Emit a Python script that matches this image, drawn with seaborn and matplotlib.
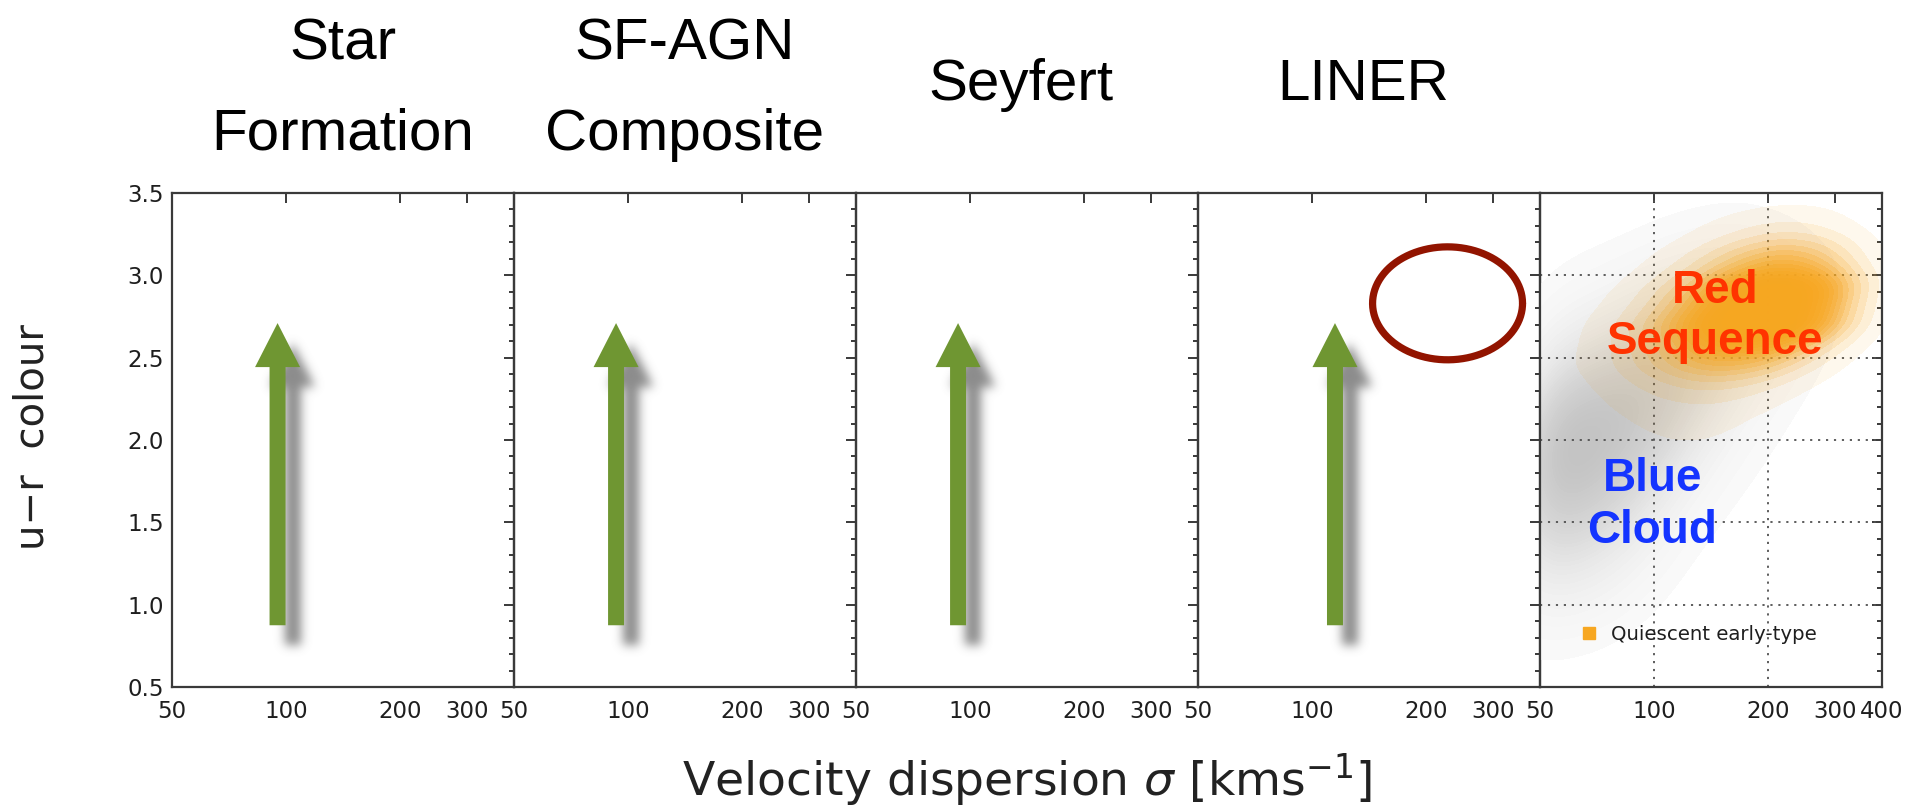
import numpy as np
import pandas as pd
import matplotlib
matplotlib.use("Agg")
import matplotlib.pyplot as plt
import seaborn as sns
from matplotlib.patches import FancyArrowPatch, ArrowStyle
from matplotlib.path import Path
from matplotlib.lines import Line2D
from matplotlib.colors import LinearSegmentedColormap, ListedColormap
from matplotlib.ticker import FixedLocator, FixedFormatter, NullLocator, MultipleLocator

# ---------------------------------------------------------------- data
panel_titles = [["Star", "Formation"], ["SF-AGN", "Composite"], ["Seyfert"], ["LINER"], []]

sigma_range = [50, 400]
ur_range = [0.5, 3.5]
x_ticks = [50, 100, 200, 300]
x_ticks_last = [50, 100, 200, 300, 400]

# green arrows per emission-line class: sigma, start and tip in u-r
arrow_sigma = [95, 93, 93, 115]
arrow_ur_start = 0.875
arrow_ur_tip = 2.71

# highlighted region in the LINER panel (centre and half-axes in log10 sigma / u-r)
ring_sigma = 228
ring_ur = 2.83
ring_dlog = 0.198
ring_dur = 0.343

# galaxy-population density on a grid: rows follow ur_nodes, columns sigma_nodes
sigma_nodes = [50, 58, 68, 80, 94, 110, 130, 152, 180, 212, 250, 295, 350]
ur_nodes = [0.7, 0.9, 1.1, 1.3, 1.5, 1.7, 1.9, 2.1, 2.3, 2.5, 2.7, 2.9, 3.1, 3.3, 3.5]

all_galaxies = [
    [0.10, 0.10, 0.10, 0.05, 0.00, 0.00, 0.00, 0.00, 0.00, 0.00, 0.00, 0.00, 0.00],
    [0.40, 0.50, 0.40, 0.30, 0.15, 0.05, 0.00, 0.00, 0.00, 0.00, 0.00, 0.00, 0.00],
    [1.20, 1.40, 1.20, 0.80, 0.40, 0.15, 0.05, 0.00, 0.00, 0.00, 0.00, 0.00, 0.00],
    [2.50, 2.80, 2.40, 1.70, 0.90, 0.35, 0.10, 0.05, 0.00, 0.00, 0.00, 0.00, 0.00],
    [4.00, 4.50, 4.00, 3.00, 1.80, 0.80, 0.30, 0.10, 0.05, 0.00, 0.00, 0.00, 0.00],
    [5.50, 6.00, 5.50, 4.50, 3.00, 1.60, 0.70, 0.30, 0.10, 0.05, 0.00, 0.00, 0.00],
    [6.00, 6.50, 6.30, 5.50, 4.30, 2.80, 1.40, 0.60, 0.25, 0.10, 0.05, 0.00, 0.00],
    [5.00, 6.00, 6.30, 6.00, 5.30, 4.00, 2.50, 1.20, 0.50, 0.20, 0.05, 0.00, 0.00],
    [3.20, 4.30, 5.00, 5.50, 5.30, 4.70, 3.50, 2.20, 1.00, 0.45, 0.15, 0.05, 0.00],
    [1.50, 2.30, 3.00, 3.80, 4.30, 4.50, 4.00, 3.00, 1.80, 0.90, 0.35, 0.10, 0.00],
    [0.60, 1.00, 1.40, 2.00, 2.70, 3.20, 3.40, 3.00, 2.20, 1.30, 0.60, 0.20, 0.05],
    [0.20, 0.35, 0.50, 0.80, 1.20, 1.60, 1.90, 1.90, 1.60, 1.00, 0.50, 0.20, 0.05],
    [0.05, 0.10, 0.15, 0.25, 0.40, 0.60, 0.75, 0.80, 0.70, 0.45, 0.25, 0.10, 0.00],
    [0.00, 0.00, 0.05, 0.05, 0.10, 0.15, 0.20, 0.25, 0.20, 0.12, 0.06, 0.00, 0.00],
    [0.00, 0.00, 0.00, 0.00, 0.00, 0.03, 0.05, 0.05, 0.05, 0.03, 0.00, 0.00, 0.00],
]

quiescent_early = [
    [0.00, 0.00, 0.00, 0.00, 0.00, 0.00, 0.00, 0.00, 0.00, 0.00, 0.00, 0.00, 0.00],
    [0.00, 0.00, 0.00, 0.00, 0.00, 0.00, 0.00, 0.00, 0.00, 0.00, 0.00, 0.00, 0.00],
    [0.00, 0.00, 0.00, 0.00, 0.00, 0.00, 0.00, 0.00, 0.00, 0.00, 0.00, 0.00, 0.00],
    [0.00, 0.00, 0.00, 0.00, 0.00, 0.00, 0.00, 0.00, 0.00, 0.00, 0.00, 0.00, 0.00],
    [0.00, 0.00, 0.00, 0.00, 0.00, 0.00, 0.00, 0.00, 0.00, 0.00, 0.00, 0.00, 0.00],
    [0.00, 0.00, 0.00, 0.03, 0.05, 0.05, 0.05, 0.03, 0.00, 0.00, 0.00, 0.00, 0.00],
    [0.00, 0.00, 0.00, 0.05, 0.08, 0.10, 0.10, 0.08, 0.05, 0.00, 0.00, 0.00, 0.00],
    [0.00, 0.00, 0.05, 0.10, 0.15, 0.20, 0.25, 0.20, 0.10, 0.05, 0.00, 0.00, 0.00],
    [0.00, 0.05, 0.10, 0.20, 0.35, 0.50, 0.60, 0.60, 0.45, 0.25, 0.10, 0.03, 0.00],
    [0.00, 0.10, 0.20, 0.45, 0.90, 1.60, 2.40, 2.80, 2.60, 1.80, 0.90, 0.30, 0.05],
    [0.00, 0.05, 0.15, 0.40, 1.00, 2.20, 4.00, 6.00, 7.50, 7.00, 5.00, 2.20, 0.50],
    [0.00, 0.00, 0.05, 0.15, 0.40, 1.00, 2.20, 4.00, 6.00, 7.00, 6.00, 3.20, 0.80],
    [0.00, 0.00, 0.00, 0.00, 0.10, 0.25, 0.60, 1.20, 2.00, 2.50, 2.20, 1.20, 0.30],
    [0.00, 0.00, 0.00, 0.00, 0.00, 0.00, 0.10, 0.20, 0.35, 0.45, 0.40, 0.20, 0.05],
    [0.00, 0.00, 0.00, 0.00, 0.00, 0.00, 0.00, 0.00, 0.00, 0.00, 0.00, 0.00, 0.00],
]

legend_label = "Quiescent early-type"

# ---------------------------------------------------------------- style
sns.set_theme(style="white")
plt.rcParams["font.family"] = ["DejaVu Sans"]
plt.rcParams["mathtext.fontset"] = "dejavusans"

GREEN = "#6F9632"
RING = "#921400"
ORANGE = "#F7A721"
INK = "#1E1E1E"

W, H, DPI = 1925, 807, 100
fig = plt.figure(figsize=(W / DPI, H / DPI), dpi=DPI)
fig.patch.set_facecolor("white")

left0, top0, bot0, pw = 172, 193, 687, 342

axes = []
for i in range(5):
    ax = fig.add_axes([(left0 + i * pw) / W, (H - bot0) / H, pw / W, (bot0 - top0) / H])
    ax.set_xscale("log")
    ax.patch.set_alpha(0.0)
    axes.append(ax)

# ---------------------------------------------------------------- population clouds
ax5 = axes[4]
S, U = np.meshgrid(sigma_nodes, ur_nodes)
cloud = pd.DataFrame({
    "sigma": S.ravel().astype(float),
    "ur": U.ravel().astype(float),
    "all": np.asarray(all_galaxies).ravel(),
    "qe": np.asarray(quiescent_early).ravel(),
})

grey_cmap = LinearSegmentedColormap.from_list(
    "greycloud", ["#FAFAFA", "#E8E8E8", "#D4D4D4", "#C3C3C3"])

sns.kdeplot(data=cloud, x="sigma", y="ur", weights="all", fill=True,
            log_scale=(True, False), levels=40, thresh=0.02, cmap=grey_cmap,
            bw_adjust=0.8, ax=ax5, zorder=1, antialiased=False)

# dotted reference grid, above the grey population, below the quiescent one
for gx in [100, 200]:
    ax5.axvline(gx, color="#505050", lw=1.3, ls=(0, (1.2, 3.2)), zorder=1.5)
for gy in [1.0, 1.5, 2.0, 2.5, 3.0]:
    ax5.axhline(gy, color="#505050", lw=1.3, ls=(0, (1.2, 3.2)), zorder=1.5)

# quiescent early types: nested translucent shells, densest on top
orange_only = ListedColormap([ORANGE])
shell_props = np.linspace(0.03, 0.85, 16)
shell_alpha = np.linspace(0.08, 0.55, 16)
for k, (p, a) in enumerate(zip(shell_props, shell_alpha)):
    sns.kdeplot(data=cloud, x="sigma", y="ur", weights="qe", fill=True,
                log_scale=(True, False), levels=[p, 1.0], cmap=orange_only,
                alpha=a, bw_adjust=0.75, ax=ax5, zorder=2 + k * 0.01)

label_font = ["Liberation Sans", "DejaVu Sans"]
span = bot0 - top0
for txt, fx, py, col in [("Red", 0.512, 303, "#FF3300"),
                         ("Sequence", 0.512, 354, "#FF3300"),
                         ("Blue", 0.330, 491, "#1434FF"),
                         ("Cloud", 0.328, 543, "#1434FF")]:
    ax5.text(fx, (bot0 - py) / span, txt, transform=ax5.transAxes,
             ha="center", va="baseline", color=col, fontsize=33,
             fontweight="bold", family=label_font, zorder=5)

handle = Line2D([], [], marker="s", ls="", color=ORANGE, markersize=8.5)
leg = ax5.legend([handle], [legend_label], loc="center left",
                 bbox_to_anchor=(0.118, (bot0 - 634) / span),
                 frameon=False, fontsize=14.2, handlelength=0.9, handletextpad=0.65,
                 borderpad=0, borderaxespad=0)
for t in leg.get_texts():
    t.set_color(INK)

# ---------------------------------------------------------------- axes cosmetics
for i, ax in enumerate(axes):
    ax.set_xlim(*sigma_range)
    ax.set_ylim(*ur_range)
    ticks = x_ticks_last if i == 4 else x_ticks
    ax.xaxis.set_major_locator(FixedLocator(ticks))
    ax.xaxis.set_major_formatter(FixedFormatter([str(v) for v in ticks]))
    ax.xaxis.set_minor_locator(NullLocator())
    ax.yaxis.set_major_locator(MultipleLocator(0.5))
    ax.yaxis.set_minor_locator(MultipleLocator(0.1))
    ax.yaxis.set_major_formatter(plt.FuncFormatter(lambda v, p: f"{v:.1f}"))
    ax.tick_params(which="both", direction="in", top=True, right=True,
                   color="#2A2A2A", width=1.3, labelcolor=INK, labelsize=16.5)
    ax.tick_params(which="major", length=7)
    ax.tick_params(which="minor", length=3.5)
    ax.tick_params(axis="x", pad=9)
    ax.tick_params(axis="y", pad=6, labelleft=(i == 0))
    ax.set_xlabel("")
    ax.set_ylabel("")
    ax.grid(False)
    for sp in ax.spines.values():
        sp.set_color("#3A3A3A")
        sp.set_linewidth(1.6)
        sp.set_visible(True)

# ---------------------------------------------------------------- arrows with soft drop shadow
HEAD_LEN_PX, HEAD_W_PX, TAIL_W_PX = 44.0, 45.0, 16.0
MUT = 20.0
pt_px = DPI / 72.0
arrow_style = ArrowStyle.Simple(head_length=HEAD_LEN_PX / (MUT * pt_px),
                                head_width=HEAD_W_PX / (MUT * pt_px),
                                tail_width=TAIL_W_PX / (MUT * pt_px))


def gauss_blur(img, sigma):
    r = int(3 * sigma)
    k = np.exp(-0.5 * (np.arange(-r, r + 1) / sigma) ** 2)
    k /= k.sum()
    img = np.apply_along_axis(lambda v: np.convolve(v, k, mode="same"), 0, img)
    img = np.apply_along_axis(lambda v: np.convolve(v, k, mode="same"), 1, img)
    return img


SHADOW_DX, SHADOW_DY, SHADOW_BLUR = 15, -20, 5.0
for ax, xs in zip(axes[:4], arrow_sigma):
    (xb, yb), (_, yt) = ax.transData.transform([(xs, arrow_ur_start), (xs, arrow_ur_tip)])
    yh = yt - HEAD_LEN_PX
    poly = np.array([
        (xb - TAIL_W_PX / 2, yb), (xb + TAIL_W_PX / 2, yb), (xb + TAIL_W_PX / 2, yh),
        (xb + HEAD_W_PX / 2, yh), (xb, yt), (xb - HEAD_W_PX / 2, yh),
        (xb - TAIL_W_PX / 2, yh)]) + np.array([SHADOW_DX, SHADOW_DY])
    pad = 25
    x0 = int(np.floor(poly[:, 0].min())) - pad
    y0 = int(np.floor(poly[:, 1].min())) - pad
    x1 = int(np.ceil(poly[:, 0].max())) + pad
    y1 = int(np.ceil(poly[:, 1].max())) + pad
    gx, gy = np.meshgrid(np.arange(x0, x1) + 0.5, np.arange(y0, y1) + 0.5)
    mask = Path(poly).contains_points(np.c_[gx.ravel(), gy.ravel()]).reshape(gx.shape)
    soft = gauss_blur(mask.astype(float), SHADOW_BLUR)
    rgba = np.zeros(soft.shape + (4,))
    rgba[..., :3] = 0.42
    rgba[..., 3] = 0.78 * soft
    fig.figimage(rgba, xo=x0, yo=y0, origin="lower", zorder=-1)
    ax.add_patch(FancyArrowPatch((xs, arrow_ur_start), (xs, arrow_ur_tip),
                                 arrowstyle=arrow_style, mutation_scale=MUT,
                                 shrinkA=0, shrinkB=0, fc=GREEN, ec="none",
                                 lw=0, zorder=3))

# ring in the LINER panel, drawn as an ellipse in log-sigma space
t = np.linspace(0, 2 * np.pi, 300)
axes[3].plot(10 ** (np.log10(ring_sigma) + ring_dlog * np.cos(t)),
             ring_ur + ring_dur * np.sin(t), color=RING, lw=5.2, zorder=4,
             solid_joinstyle="round")

# ---------------------------------------------------------------- titles and axis labels
title_font = ["Liberation Sans", "DejaVu Sans"]
for i, lines in enumerate(panel_titles):
    cx = (left0 + i * pw + pw / 2) / W
    if len(lines) == 2:
        fig.text(cx, 1 - 60 / H, lines[0], ha="center", va="baseline",
                 fontsize=42, family=title_font, color="black")
        fig.text(cx, 1 - 150 / H, lines[1], ha="center", va="baseline",
                 fontsize=42, family=title_font, color="black")
    elif len(lines) == 1:
        fig.text(cx - 6 / W, 1 - 100 / H, lines[0], ha="center", va="baseline",
                 fontsize=42, family=title_font, color="black")

fig.text((left0 + 5 * pw / 2) / W, 1 - 780 / H,
         r"Velocity dispersion $\sigma$ [kms$^{-1}$]",
         ha="center", va="center", fontsize=34, color="#222222")
fig.text(33 / W, 1 - 437 / H, "u\u2212r  colour", rotation=90,
         ha="center", va="center", fontsize=29, color="#222222")

fig.savefig("out.png", dpi=DPI, facecolor="white")
